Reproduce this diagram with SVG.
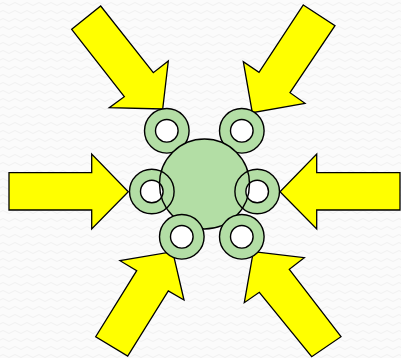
<svg xmlns="http://www.w3.org/2000/svg" width="401" height="358" viewBox="0 0 401 358">
<defs>
<pattern id="bg" width="12" height="8" patternUnits="userSpaceOnUse">
<rect width="12" height="8" fill="#fbfbfb"/>
<path d="M0,4 Q3,1 6,4 T12,4" fill="none" stroke="#f1f1f1" stroke-width="1"/>
</pattern>
<clipPath id="sideRings">
<circle cx="151.8" cy="191.5" r="23"/>
<circle cx="257.2" cy="191.5" r="23"/>
</clipPath>
</defs>
<style>
.arrow{fill:#ffff00;stroke:#000;stroke-width:1.3;stroke-linejoin:miter}
.ring{fill:#b3dea5;stroke:#000;stroke-width:1.4}
.hole{fill:#fff;stroke:#000;stroke-width:1.4}
.hub{fill:#b3dea5;stroke:#000;stroke-width:1.4}
.hubline{fill:none;stroke:#000;stroke-width:1.4}
</style>
<rect width="401" height="358" fill="url(#bg)"/>
<g id="connectors">
<polygon id="arrow-tl" class="arrow" points="71.7,29.3 100.7,6 153.3,72.7 168.3,61 162.7,109 109.3,107.7 124.3,96.7"/>
<polygon id="arrow-tr" class="arrow" points="303.3,5 335,25.7 290,92.7 305,103.3 252.3,112.7 243.3,61.7 259,72.3"/>
<polygon id="arrow-l" class="arrow" points="9,172.7 91.7,172.7 91.7,154 128.3,191.7 91.7,229 91.7,210 9,210"/>
<polygon id="arrow-r" class="arrow" points="400,172.7 316.7,172.7 316.7,154 280,191.7 316.7,229 316.7,210 400,210"/>
<polygon id="arrow-bl" class="arrow" points="172.7,251.7 184,300 168.3,291 127.7,356 95.7,336.7 136.7,270.7 120,260.7"/>
<polygon id="arrow-br" class="arrow" points="253.3,251.7 304.3,257.7 289.3,269.3 341,336.7 311.7,356.7 259.3,292.3 244.3,302.7"/>
</g>
<g id="ring-tl"><circle class="ring" cx="166.8" cy="130.8" r="22.3"/><circle class="hole" cx="166.8" cy="130.8" r="11.3"/></g>
<g id="ring-tr"><circle class="ring" cx="241.8" cy="130.8" r="22.3"/><circle class="hole" cx="241.8" cy="130.8" r="11.3"/></g>
<g id="hub">
<circle class="hub" cx="204.5" cy="184" r="45"/>
</g>
<g id="ring-bl"><circle class="ring" cx="181.8" cy="236.8" r="22.3"/><circle class="hole" cx="181.8" cy="236.8" r="11.3"/></g>
<g id="ring-br"><circle class="ring" cx="241.8" cy="236.8" r="22.3"/><circle class="hole" cx="241.8" cy="236.8" r="11.3"/></g>
<g id="ring-l"><circle class="ring" cx="151.8" cy="191.5" r="22.3"/><circle class="hole" cx="151.8" cy="191.5" r="11.3"/></g>
<g id="ring-r"><circle class="ring" cx="257.2" cy="191.5" r="22.3"/><circle class="hole" cx="257.2" cy="191.5" r="11.3"/></g>
<g id="hub-outline" clip-path="url(#sideRings)">
<circle class="hubline" cx="204.5" cy="184" r="45"/>
</g>
</svg>
